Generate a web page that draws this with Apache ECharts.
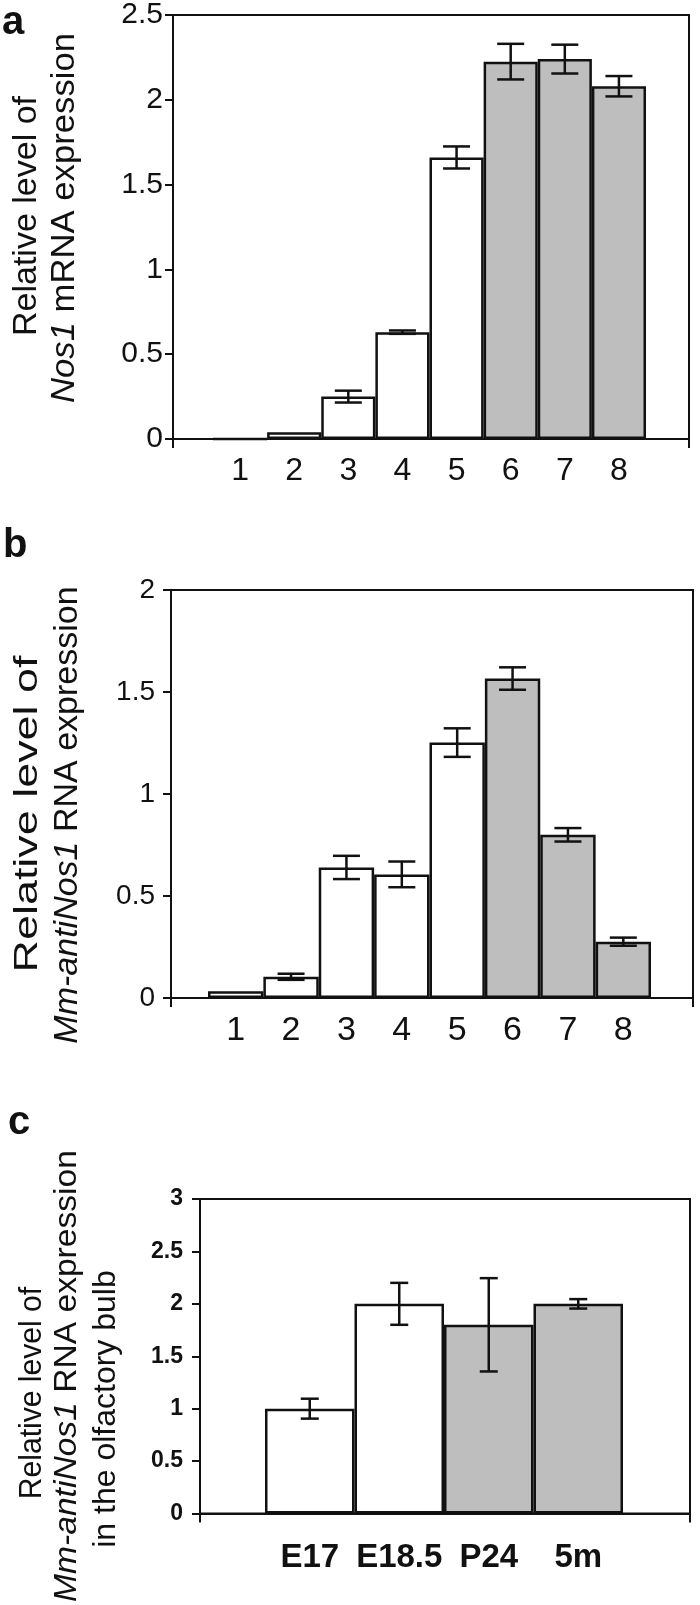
<!DOCTYPE html>
<html>
<head>
<meta charset="utf-8">
<script src="https://cdn.jsdelivr.net/npm/echarts@6/dist/echarts.min.js"></script>
<style>
  html, body { margin: 0; padding: 0; background: #fff; }
  #chart { width: 700px; height: 1605px; }
</style>
</head>
<body>
<div id="chart"></div>
<script>
// panel a: Nos1 mRNA
const catsA = ['1', '2', '3', '4', '5', '6', '7', '8']
const valsA = [0, 0.04, 0.25, 0.63, 1.66, 2.225, 2.24, 2.08]
const errsA = [0, 0, 0.035, 0.01, 0.065, 0.105, 0.085, 0.06]

// panel b: Mm-antiNos1 RNA
const catsB = ['1', '2', '3', '4', '5', '6', '7', '8']
const valsB = [0.033, 0.104, 0.64, 0.606, 1.252, 1.566, 0.80, 0.276]
const errsB = [0, 0.015, 0.057, 0.063, 0.07, 0.055, 0.033, 0.02]

// panel c: olfactory bulb
const catsC = ['E17', 'E18.5', 'P24', '5m']
const valsC = [1.0, 2.0, 1.8, 2.0]
const errsC = [0.095, 0.2, 0.445, 0.045]

const INK = '#111'
const GREY = '#bebebe'
const FONT = '"Liberation Sans", Arial, sans-serif'

// error bar drawn on top of each bar
function errorBar (capHalf) {
  return function (params, api) {
    const i = api.value(0)
    const v = api.value(1)
    const e = api.value(2)
    if (!e) return
    const hi = api.coord([i, v + e])
    const lo = api.coord([i, v - e])
    const st = { stroke: INK, lineWidth: 2.5 }
    return {
      type: 'group',
      children: [
        { type: 'line', shape: { x1: hi[0], y1: hi[1], x2: lo[0], y2: lo[1] }, style: st },
        { type: 'line', shape: { x1: hi[0] - capHalf, y1: hi[1], x2: hi[0] + capHalf, y2: hi[1] }, style: st },
        { type: 'line', shape: { x1: lo[0] - capHalf, y1: lo[1], x2: lo[0] + capHalf, y2: lo[1] }, style: st }
      ]
    }
  }
}

const option = {
  animation: false,
  grid: [],
  xAxis: [],
  yAxis: [],
  series: [],
  graphic: []
}

function addPanel (p) {
  const g = option.grid.length
  const line = { color: INK, width: 2 }
  // frame grid: box, y ticks, end ticks
  option.grid.push({
    left: p.frame[0], top: p.frame[1], width: p.frame[2], height: p.frame[3],
    show: true, borderColor: INK, borderWidth: 2, backgroundColor: 'transparent'
  })
  // bar grid
  option.grid.push({ left: p.bars[0], top: p.frame[1], width: p.bars[1], height: p.frame[3] })

  option.xAxis.push({
    gridIndex: g, type: 'value', min: 0, max: 1, interval: 1,
    axisLine: { lineStyle: line },
    axisTick: { length: 9, lineStyle: line },
    axisLabel: { show: false },
    splitLine: { show: false }
  })
  option.yAxis.push({
    gridIndex: g, type: 'value', min: 0, max: p.max, interval: p.step,
    axisLine: { show: true, lineStyle: line },
    axisTick: { show: true, length: 8, lineStyle: line },
    axisLabel: {
      margin: p.yMargin, fontSize: p.yFont, fontWeight: p.bold ? 'bold' : 'normal',
      color: INK, fontFamily: FONT
    },
    splitLine: { show: false }
  })
  option.xAxis.push({
    gridIndex: g + 1, type: 'category', data: p.cats,
    axisLine: { show: false },
    axisTick: { show: false },
    axisLabel: {
      interval: 0, margin: p.xMargin, fontSize: p.xFont,
      fontWeight: p.bold ? 'bold' : 'normal', color: INK, fontFamily: FONT
    }
  })
  option.yAxis.push({ gridIndex: g + 1, type: 'value', min: 0, max: p.max, show: false })

  const ax = option.xAxis.length - 1
  option.series.push({
    type: 'bar',
    xAxisIndex: ax,
    yAxisIndex: ax,
    data: p.vals,
    barCategoryGap: '0%',
    silent: true,
    itemStyle: {
      color: (d) => d.dataIndex >= p.greyFrom ? GREY : '#fff',
      borderColor: INK,
      borderWidth: 2.5
    }
  })
  option.series.push({
    type: 'custom',
    xAxisIndex: ax,
    yAxisIndex: ax,
    z: 5,
    silent: true,
    data: p.vals.map((v, i) => [i, v, p.errs[i]]),
    renderItem: errorBar(p.cap)
  })
}

addPanel({
  frame: [173, 15, 516, 424], bars: [213, 433],
  cats: catsA, vals: valsA, errs: errsA, max: 2.5, step: 0.5,
  yFont: 30, yMargin: 10, xFont: 32, xMargin: 16, bold: false, greyFrom: 5, cap: 13.5
})
addPanel({
  frame: [171, 590, 522, 408], bars: [208, 443],
  cats: catsB, vals: valsB, errs: errsB, max: 2, step: 0.5,
  yFont: 28, yMargin: 16, xFont: 34, xMargin: 16, bold: false, greyFrom: 5, cap: 13.5
})
addPanel({
  frame: [200, 1199, 490, 314.5], bars: [265, 358],
  cats: catsC, vals: valsC, errs: errsC, max: 3, step: 0.5,
  yFont: 23, yMargin: 17, xFont: 33, xMargin: 28, bold: true, greyFrom: 2, cap: 9
})

// panel letters
function letter (x, y, t) {
  return {
    type: 'text', x: x, y: y,
    style: {
      text: t, fontSize: 40, fontWeight: 'bold', fontFamily: FONT, fill: INK,
      textAlign: 'left', textVerticalAlign: 'middle', align: 'left', verticalAlign: 'middle'
    }
  }
}

// rotated axis titles, one element per line
function title (x, y, t, size, sx) {
  return {
    type: 'text', x: x, y: y, rotation: Math.PI / 2, scaleX: sx,
    style: {
      text: t, fontSize: size, fontFamily: FONT, fill: INK,
      textAlign: 'center', textVerticalAlign: 'middle', align: 'center', verticalAlign: 'middle',
      rich: {
        it: { fontStyle: 'italic', fontSize: size, fontFamily: FONT, fill: INK }
      }
    }
  }
}

option.graphic = [
  letter(2, 23, 'a'),
  letter(3, 546, 'b'),
  letter(8, 1123, 'c'),
  title(27, 216, 'Relative level of', 34, 1),
  title(65, 218, '{it|Nos1} mRNA expression', 34, 1.02),
  title(28, 814, 'Relative level of', 34, 1.32),
  title(68, 815, '{it|Mm-antiNos1} RNA expression', 34, 1),
  title(32, 1393, 'Relative level of', 32, 0.94),
  title(67, 1376, '{it|Mm-antiNos1} RNA expression', 32, 1.05),
  title(106, 1409, 'in the olfactory bulb', 32, 1)
]

let myChart = echarts.init(document.getElementById('chart'))
myChart.setOption(option)
</script>
</body>
</html>
